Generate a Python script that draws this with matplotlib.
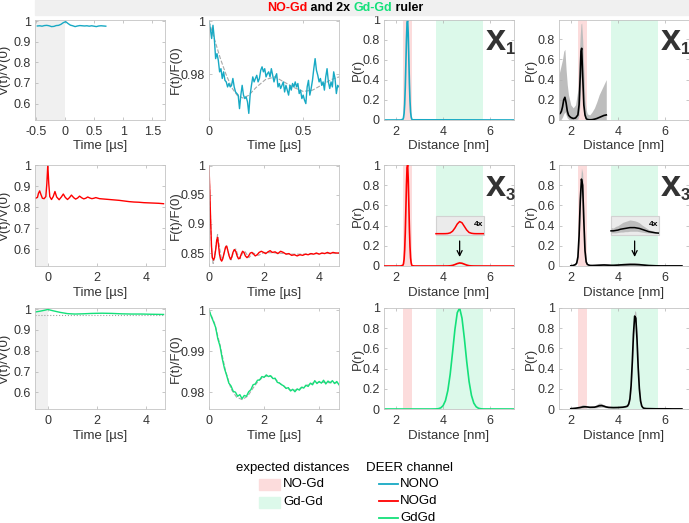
import numpy as np
import matplotlib.pyplot as plt
from matplotlib.patches import Rectangle
from matplotlib.lines import Line2D
from matplotlib.offsetbox import TextArea, HPacker, AnnotationBbox

plt.rcParams['font.family'] = ['Liberation Sans', 'DejaVu Sans']
plt.rcParams['axes.unicode_minus'] = False

# colours
c_nono = '#17a9c4'
c_nogd = '#ff0000'
c_gdgd = '#14e07a'
band_nogd = '#fcdcdc'
band_gdgd = '#dcf9ea'
txt = '#333333'

# ---------------- data ----------------
# NONO channel
v_nono = [0.976, 0.977, 0.975, 0.978, 0.979, 0.977, 0.973, 0.974, 0.978, 0.979,
          0.984, 0.992, 0.997, 0.988, 0.980, 0.977, 0.973, 0.976, 0.978, 0.977,
          0.976, 0.977, 0.975, 0.977, 0.975, 0.973, 0.976, 0.977, 0.976, 0.975]
f_nono = [1.0, 0.9972, 0.9935, 0.9985, 0.9935, 0.9859, 0.9878, 0.9853, 0.9809, 0.9821,
          0.9784, 0.9809, 0.9777, 0.9771, 0.9752, 0.9765, 0.9752, 0.9758, 0.9784, 0.9752,
          0.9733, 0.9727, 0.9721, 0.9670, 0.9721, 0.9758, 0.9721, 0.9708, 0.9714, 0.9696,
          0.9652, 0.9721, 0.9758, 0.9790, 0.9771, 0.9784, 0.9796, 0.9771, 0.9784, 0.9815,
          0.9828, 0.9809, 0.9821, 0.9790, 0.9802, 0.9809, 0.9790, 0.9821, 0.9796, 0.9771,
          0.9790, 0.9802, 0.9752, 0.9765, 0.9746, 0.9758, 0.9771, 0.9733, 0.9758, 0.9740,
          0.9721, 0.9758, 0.9740, 0.9765, 0.9752, 0.9771, 0.9752, 0.9765, 0.9727, 0.9740,
          0.9708, 0.9721, 0.9702, 0.9689, 0.9752, 0.9777, 0.9721, 0.9746, 0.9777, 0.9821,
          0.9859, 0.9815, 0.9796, 0.9771, 0.9784, 0.9758, 0.9771, 0.9740, 0.9790, 0.9821,
          0.9771, 0.9746, 0.9771, 0.9752, 0.9809, 0.9784, 0.9727, 0.9758, 0.9752]
tfit_nono = [0, 0.03, 0.06, 0.09, 0.12, 0.15, 0.18, 0.21, 0.25, 0.3, 0.35, 0.4, 0.45,
             0.5, 0.55, 0.6, 0.65, 0.69]
ffit_nono = [1.0, 0.993, 0.986, 0.980, 0.975, 0.972, 0.971, 0.972, 0.975, 0.978, 0.979,
             0.977, 0.975, 0.9735, 0.974, 0.976, 0.978, 0.979]

r_peak = [2.3, 2.325, 2.35, 2.375, 2.4, 2.425, 2.45, 2.475, 2.5, 2.525, 2.55, 2.575,
          2.6, 2.625, 2.65, 2.675, 2.7]
p_peak = [0.007, 0.023, 0.066, 0.16, 0.33, 0.56, 0.80, 0.97, 1.0, 0.86, 0.62, 0.37,
          0.19, 0.08, 0.03, 0.009, 0.002]
r_nono = [1.5, 2.2] + r_peak + [7.0]
p_nono = [0, 0] + p_peak + [0]

r_x1 = [1.5, 1.55, 1.6, 1.65, 1.7, 1.75, 1.8, 1.85, 1.9, 1.95, 2.0, 2.1, 2.2, 2.3, 2.35,
        2.4, 2.43, 2.46, 2.5, 2.55, 2.6, 2.65, 2.7, 2.8, 2.9, 3.0, 3.1, 3.2, 3.3, 3.4, 3.5]
p_x1 = [0.06, 0.065, 0.085, 0.13, 0.2, 0.225, 0.17, 0.09, 0.05, 0.035, 0.025, 0.015, 0.02,
        0.05, 0.15, 0.45, 0.68, 0.71, 0.45, 0.15, 0.05, 0.015, 0.005, 0.002, 0.003, 0.008,
        0.015, 0.025, 0.035, 0.045, 0.05]
hi_x1 = [0.45, 0.5, 0.55, 0.6, 0.68, 0.7, 0.5, 0.35, 0.25, 0.2, 0.15, 0.12, 0.15, 0.3, 0.6,
         0.85, 0.95, 0.96, 0.8, 0.5, 0.2, 0.1, 0.06, 0.05, 0.08, 0.12, 0.18, 0.25, 0.3, 0.35,
         0.4]
lo_x1 = [0.0, 0.0, 0.01, 0.03, 0.06, 0.08, 0.05, 0.02, 0.01, 0.0, 0.0, 0.0, 0.0, 0.01, 0.05,
         0.2, 0.4, 0.45, 0.25, 0.06, 0.01, 0, 0, 0, 0, 0, 0, 0, 0, 0, 0]

# NOGd channel
t_v_nogd = [-0.5, -0.42, -0.38, -0.33, -0.28, -0.22, -0.15, -0.08, -0.04, 0, 0.04, 0.08,
            0.15, 0.22, 0.29, 0.36, 0.46, 0.55, 0.63, 0.71, 0.8, 0.88, 0.96, 1.05, 1.13,
            1.21, 1.29, 1.38, 1.46, 1.54, 1.62, 1.71, 1.79, 1.87, 1.95, 2.1, 2.3, 2.5, 2.7,
            2.9, 3.1, 3.3, 3.5, 3.7, 3.9, 4.1, 4.3, 4.5, 4.7]
v_nogd = [0.842, 0.846, 0.865, 0.877, 0.86, 0.842, 0.840, 0.85, 0.91, 1.0, 0.91, 0.85,
          0.836, 0.85, 0.874, 0.848, 0.835, 0.848, 0.862, 0.846, 0.836, 0.845, 0.857, 0.845,
          0.838, 0.843, 0.852, 0.844, 0.839, 0.842, 0.848, 0.843, 0.840, 0.842, 0.845, 0.840,
          0.838, 0.836, 0.834, 0.832, 0.829, 0.826, 0.824, 0.823, 0.821, 0.820, 0.819, 0.818,
          0.816]
t_f_nogd = [0, 0.03, 0.06, 0.09, 0.12, 0.16, 0.2, 0.25, 0.28, 0.31, 0.34, 0.38, 0.42, 0.46,
            0.5, 0.55, 0.6, 0.64, 0.68, 0.73, 0.78, 0.82, 0.87, 0.92, 0.97, 1.02, 1.07, 1.12,
            1.17, 1.22, 1.27, 1.32, 1.38, 1.44, 1.5, 1.56, 1.62, 1.68, 1.75, 1.82, 1.9, 1.98,
            2.06, 2.14, 2.22, 2.3, 2.4, 2.5, 2.6, 2.7, 2.8, 2.9, 3.0, 3.1, 3.2, 3.3, 3.4, 3.5,
            3.6, 3.7, 3.8, 3.9, 4.0, 4.1, 4.2, 4.3, 4.4, 4.5, 4.6, 4.72]
f_nogd = [1.0, 0.955, 0.905, 0.862, 0.842, 0.838, 0.842, 0.858, 0.872, 0.877, 0.866, 0.848,
          0.839, 0.836, 0.840, 0.850, 0.860, 0.862, 0.855, 0.845, 0.839, 0.842, 0.851, 0.856,
          0.853, 0.845, 0.840, 0.841, 0.848, 0.853, 0.851, 0.845, 0.842, 0.845, 0.850, 0.851,
          0.848, 0.845, 0.847, 0.851, 0.853, 0.851, 0.849, 0.852, 0.854, 0.851, 0.852, 0.849,
          0.853, 0.851, 0.848, 0.849, 0.846, 0.847, 0.845, 0.847, 0.846, 0.848, 0.847, 0.849,
          0.848, 0.850, 0.848, 0.850, 0.849, 0.851, 0.849, 0.851, 0.850, 0.850]
tfit_nogd = [0, 0.05, 0.1, 0.15, 0.2, 0.25, 0.31, 0.38, 0.46, 0.55, 0.63, 0.72, 0.8, 0.9,
             0.97, 1.05, 1.13, 1.22, 1.3, 1.45, 1.6, 1.8, 2.0, 2.5, 3.0, 3.5, 4.0, 4.72]
ffit_nogd = [1.0, 0.92, 0.85, 0.832, 0.842, 0.862, 0.882, 0.86, 0.837, 0.85, 0.864, 0.848,
             0.838, 0.853, 0.857, 0.846, 0.84, 0.85, 0.853, 0.842, 0.85, 0.846, 0.851, 0.85,
             0.848, 0.848, 0.849, 0.85]

r_bump = [3.7, 3.8, 3.9, 4.0, 4.1, 4.2, 4.3, 4.4, 4.5, 4.6, 4.7, 4.8, 4.9, 5.0, 5.1, 5.2,
          5.3, 5.4, 5.5, 5.6, 5.7]
p_bump = [0, 0, 0, 0, 0.0001, 0.0005, 0.002, 0.006, 0.014, 0.024, 0.030, 0.027, 0.018,
          0.009, 0.003, 0.001, 0.0002, 0, 0, 0, 0]
r_nogd = [1.5, 2.2] + r_peak + [2.8] + r_bump + [7.0]
p_nogd = [0, 0] + p_peak + [0] + p_bump + [0]

r_x3 = [2.0, 2.1, 2.2, 2.25, 2.3, 2.35, 2.4, 2.45, 2.5, 2.55, 2.6, 2.65, 2.7, 2.8, 2.9, 3.0,
        3.2, 3.4, 3.7, 3.8, 3.9, 4.0, 4.1, 4.2, 4.3, 4.4, 4.5, 4.6, 4.7, 4.8, 4.9, 5.0, 5.1,
        5.2, 5.3, 5.4, 5.5, 5.6, 5.7, 5.8, 6.0, 6.2, 6.4, 6.7]
p_x3 = [0.002, 0.005, 0.015, 0.03, 0.09, 0.3, 0.65, 0.86, 0.8, 0.45, 0.15, 0.04, 0.015,
        0.006, 0.005, 0.006, 0.008, 0.01, 0.007, 0.007, 0.008, 0.009, 0.011, 0.012, 0.013,
        0.014, 0.015, 0.015, 0.015, 0.014, 0.013, 0.011, 0.009, 0.007, 0.005, 0.004, 0.003,
        0.002, 0.0015, 0.001, 0.001, 0.001, 0.001, 0.001]
hi_x3 = [0.003, 0.007, 0.02, 0.04, 0.12, 0.38, 0.78, 0.97, 0.92, 0.55, 0.2, 0.06, 0.025,
         0.012, 0.012, 0.014, 0.02, 0.025, 0.015, 0.014, 0.018, 0.02, 0.024, 0.028, 0.03,
         0.032, 0.034, 0.033, 0.032, 0.03, 0.027, 0.022, 0.018, 0.014, 0.01, 0.008, 0.006,
         0.004, 0.003, 0.002, 0.002, 0.002, 0.002, 0.002]
lo_x3 = [0.001, 0.003, 0.01, 0.022, 0.07, 0.24, 0.55, 0.76, 0.68, 0.37, 0.11, 0.03, 0.01,
         0.003, 0.002, 0.002, 0.002, 0.003, 0.002, 0.002, 0.002, 0.003, 0.004, 0.004, 0.005,
         0.005, 0.006, 0.006, 0.006, 0.006, 0.005, 0.004, 0.003, 0.002, 0.002, 0.001, 0.001,
         0.001, 0.0005, 0.0005, 0.0005, 0.0005, 0.0005, 0.0005]

# GdGd channel
t_v_gdgd = [-0.5, -0.3, -0.1, 0, 0.2, 0.5, 0.8, 1.1, 1.4, 1.8, 2.2, 2.6, 3.0, 3.4, 3.8,
            4.2, 4.7]
v_gdgd = [0.986, 0.99, 0.995, 0.998, 0.992, 0.984, 0.978, 0.976, 0.977, 0.979, 0.98, 0.979,
          0.977, 0.976, 0.976, 0.975, 0.974]
v_gdgd_bg = 0.972
f_gdgd = [1.0, 0.9985, 0.9972, 0.9958, 0.9930, 0.9912, 0.9882, 0.9858, 0.9841, 0.9822,
          0.9815, 0.9802, 0.9800, 0.9790, 0.9794, 0.9784, 0.9792, 0.9790, 0.9801, 0.9806,
          0.9818, 0.9820, 0.9829, 0.9830, 0.9838, 0.9836, 0.9842, 0.9838, 0.9840, 0.9833,
          0.9834, 0.9824, 0.9822, 0.9818, 0.9815, 0.9809, 0.9811, 0.9803, 0.9807, 0.9801,
          0.9808, 0.9805, 0.9812, 0.9810, 0.9817, 0.9814, 0.9822, 0.9818, 0.9828, 0.9821,
          0.9826, 0.9822, 0.9829, 0.9820, 0.9827, 0.9823, 0.9828, 0.9821, 0.9826, 0.9818]
tfit_gdgd = [0, 0.2, 0.4, 0.6, 0.8, 1.0, 1.2, 1.4, 1.6, 1.8, 2.0, 2.2, 2.4, 2.6, 2.8, 3.0,
             3.2, 3.4, 3.6, 3.8, 4.0, 4.2, 4.4, 4.72]
ffit_gdgd = [1.0, 0.9968, 0.9915, 0.9852, 0.9808, 0.9788, 0.9782, 0.9790, 0.9810, 0.9828,
             0.9838, 0.9840, 0.9832, 0.9820, 0.9810, 0.9804, 0.9806, 0.9812, 0.9818, 0.9823,
             0.9824, 0.9824, 0.9823, 0.9823]

r_gdgd = [1.5, 3.5] + r_bump + [7.0]
p_gdgd = [0, 0, 0.0008, 0.003, 0.011, 0.033, 0.083, 0.182, 0.344, 0.56, 0.787, 0.954, 1.0,
          0.899, 0.699, 0.469, 0.271, 0.135, 0.058, 0.022, 0.007, 0.002, 0.0005, 0]

r_xg = [2.0, 2.2, 2.4, 2.5, 2.6, 2.7, 2.8, 3.0, 3.1, 3.2, 3.3, 3.4, 3.5, 3.6, 3.8, 4.0, 4.2,
        4.3, 4.35, 4.4, 4.45, 4.5, 4.55, 4.6, 4.65, 4.7, 4.75, 4.8, 4.85, 4.9, 4.95, 5.0, 5.05,
        5.1, 5.2, 5.4, 5.6, 5.8, 6.0, 6.3, 6.7]
p_xg = [0.003, 0.008, 0.015, 0.02, 0.022, 0.02, 0.017, 0.018, 0.024, 0.032, 0.034, 0.028,
        0.02, 0.016, 0.014, 0.015, 0.018, 0.022, 0.025, 0.03, 0.05, 0.1, 0.23, 0.46, 0.74,
        0.92, 0.9, 0.69, 0.41, 0.2, 0.08, 0.03, 0.013, 0.007, 0.004, 0.003, 0.002, 0.002,
        0.002, 0.001, 0.001]
hi_xg = [0.004, 0.012, 0.03, 0.045, 0.04, 0.03, 0.025, 0.03, 0.045, 0.06, 0.055, 0.04, 0.03,
         0.025, 0.022, 0.022, 0.026, 0.03, 0.034, 0.04, 0.065, 0.13, 0.28, 0.53, 0.82, 0.975,
         0.96, 0.75, 0.46, 0.24, 0.1, 0.04, 0.018, 0.01, 0.006, 0.004, 0.003, 0.003, 0.003,
         0.002, 0.002]
lo_xg = [0.002, 0.005, 0.008, 0.01, 0.012, 0.012, 0.01, 0.01, 0.012, 0.015, 0.018, 0.016,
         0.012, 0.01, 0.009, 0.01, 0.012, 0.015, 0.018, 0.022, 0.04, 0.08, 0.19, 0.4, 0.66,
         0.86, 0.84, 0.63, 0.36, 0.17, 0.065, 0.022, 0.009, 0.005, 0.003, 0.002, 0.001, 0.001,
         0.001, 0.0005, 0.0005]

# expected distance windows [nm]
win_nogd = (2.32, 2.68)
win_gdgd = (3.7, 5.7)
inset_off, inset_mag = 0.32, 4

# ---------------- figure ----------------
W, H = 689, 523
fig = plt.figure(figsize=(W / 100, H / 100), dpi=100)

col_x = [35, 209, 384, 559]
rows = [(20, 100), (165, 101), (308, 101)]


def make_ax(col, row):
    top, h = rows[row]
    return fig.add_axes([col_x[col] / W, 1 - (top + h) / H, 130 / W, h / H])


def style(ax, xlim, xt, xtl, ylim, yt, ytl, xlab, ylab, ylx):
    ax.set_xlim(xlim)
    ax.set_ylim(ylim)
    ax.set_xticks(xt)
    ax.set_xticklabels(xtl)
    ax.set_yticks(yt)
    ax.set_yticklabels(ytl)
    ax.tick_params(direction='in', top=True, right=True, length=2.5, width=0.5,
                   color='#b0b0b0', labelcolor=txt, labelsize=9, pad=3)
    ax.tick_params(axis='x', pad=4.5)
    for s in ax.spines.values():
        s.set_color('#c4c4c4')
        s.set_linewidth(0.6)
    ax.set_xlabel(xlab, fontsize=9.5, color=txt)
    ax.set_ylabel(ylab, fontsize=9.5, color=txt)
    ax.xaxis.set_label_coords(0.5, -0.205)
    ax.yaxis.set_label_coords(ylx, 0.5)


def windows(ax):
    ax.axvspan(*win_nogd, color=band_nogd, lw=0, zorder=0)
    ax.axvspan(*win_gdgd, color=band_gdgd, lw=0, zorder=0)


def tag(ax, sub):
    ax.text(0.78, 0.695, 'x', transform=ax.transAxes, fontsize=26, fontweight='bold',
            color=txt, va='baseline')
    ax.text(0.935, 0.655, sub, transform=ax.transAxes, fontsize=12, fontweight='bold',
            color=txt, va='baseline')


def inset_box(ax):
    ax.add_patch(Rectangle((3.69, 0.305), 2.05, 0.193, facecolor='#ebebeb',
                           edgecolor='#d2d2d2', lw=0.8, zorder=2))
    ax.text(5.5, 0.41, '4x', fontsize=6, fontweight='bold', ha='center', va='center',
            zorder=4)
    ax.annotate('', xy=(4.7, 0.062), xytext=(4.7, 0.275),
                arrowprops=dict(arrowstyle='->', color='black', lw=0.9,
                                mutation_scale=9), zorder=4)


time_us = 'Time [\u00b5s]'
dist = 'Distance [nm]'
v_ticks = [0.6, 0.7, 0.8, 0.9, 1]
v_tl = ['0.6', '0.7', '0.8', '0.9', '1']
p_ticks = [0, 0.2, 0.4, 0.6, 0.8, 1]
p_tl = ['0', '0.2', '0.4', '0.6', '0.8', '1']

# ---- row 1: NONO ----
ax = make_ax(0, 0)
ax.axvspan(-0.52, 0, color='#f0f0f0', lw=0)
ax.plot(np.linspace(-0.48, 0.70, len(v_nono)), v_nono, color=c_nono, lw=1)
style(ax, (-0.52, 1.72), [-0.5, 0, 0.5, 1, 1.5], ['-0.5', '0', '0.5', '1', '1.5'],
      (0.52, 1.005), v_ticks, v_tl, time_us, 'V(t)/V(0)', -0.185)

ax = make_ax(1, 0)
ax.plot(tfit_nono, ffit_nono, color='#a8a8a8', ls='--', lw=0.8)
ax.plot(np.linspace(0, 0.69, len(f_nono)), f_nono, color=c_nono, lw=1)
style(ax, (0, 0.69), [0, 0.5], ['0', '0.5'], (0.9627, 1.0005), [0.98, 1], ['0.98', '1'],
      time_us, 'F(t)/F(0)', -0.208)

ax = make_ax(2, 0)
windows(ax)
ax.plot(r_nono, p_nono, color=c_nono, lw=1.2)
style(ax, (1.5, 7), [2, 4, 6], ['2', '4', '6'], (0, 1.0), p_ticks, p_tl, dist, 'P(r)',
      -0.155)
tag(ax, '1')

ax = make_ax(3, 0)
windows(ax)
ax.fill_between(r_x1, lo_x1, hi_x1, color='#bdbdbd', lw=0)
ax.plot(r_x1, p_x1, color='black', lw=1.2)
style(ax, (1.5, 7), [2, 4, 6], ['2', '4', '6'], (0, 0.99), p_ticks[:-1], p_tl[:-1], dist,
      'P(r)', -0.172)
tag(ax, '1')

# ---- row 2: NOGd ----
ax = make_ax(0, 1)
ax.axvspan(-0.52, 0, color='#f0f0f0', lw=0)
ax.plot(t_v_nogd, v_nogd, color=c_nogd, lw=1)
style(ax, (-0.52, 4.76), [0, 2, 4], ['0', '2', '4'], (0.52, 1.0), v_ticks, v_tl, time_us,
      'V(t)/V(0)', -0.185)

ax = make_ax(1, 1)
ax.plot(tfit_nogd, ffit_nogd, color='#a8a8a8', ls='--', lw=0.8)
ax.plot(t_f_nogd, f_nogd, color=c_nogd, lw=1)
style(ax, (0, 4.72), [0, 2, 4], ['0', '2', '4'], (0.8276, 1.0017), [0.85, 0.9, 0.95, 1],
      ['0.85', '0.9', '0.95', '1'], time_us, 'F(t)/F(0)', -0.208)

ax = make_ax(2, 1)
windows(ax)
ax.plot(r_nogd, p_nogd, color=c_nogd, lw=1.2, zorder=3)
inset_box(ax)
rb = np.array(r_bump)
ax.plot(rb, inset_off + inset_mag * np.array(p_bump), color=c_nogd, lw=1.1, zorder=3)
style(ax, (1.5, 7), [2, 4, 6], ['2', '4', '6'], (0, 1.0), p_ticks, p_tl, dist, 'P(r)',
      -0.155)
tag(ax, '3')

ax = make_ax(3, 1)
windows(ax)
ax.fill_between(r_x3, lo_x3, hi_x3, color='#bdbdbd', lw=0, zorder=1)
ax.plot(r_x3, p_x3, color='black', lw=1.2, zorder=3)
inset_box(ax)
rx = np.array(r_x3)
m = (rx >= 3.7) & (rx <= 5.72)
ax.fill_between(rx[m], inset_off + inset_mag * np.array(lo_x3)[m],
                inset_off + inset_mag * np.array(hi_x3)[m], color='#bdbdbd', lw=0, zorder=3)
ax.plot(rx[m], inset_off + inset_mag * np.array(p_x3)[m], color='black', lw=1.1, zorder=3)
style(ax, (1.5, 7), [2, 4, 6], ['2', '4', '6'], (0, 1.0), p_ticks, p_tl, dist, 'P(r)',
      -0.172)
tag(ax, '3')

# ---- row 3: GdGd ----
ax = make_ax(0, 2)
ax.axvspan(-0.52, 0, color='#f0f0f0', lw=0)
ax.axhline(v_gdgd_bg, color='#a0a0a0', ls=':', lw=0.8)
ax.plot(t_v_gdgd, v_gdgd, color=c_gdgd, lw=1)
style(ax, (-0.52, 4.76), [0, 2, 4], ['0', '2', '4'], (0.52, 1.005), v_ticks, v_tl, time_us,
      'V(t)/V(0)', -0.185)

ax = make_ax(1, 2)
ax.plot(tfit_gdgd, ffit_gdgd, color='#a8a8a8', ls='--', lw=0.8)
ax.plot(np.linspace(0, 4.72, len(f_gdgd)), f_gdgd, color=c_gdgd, lw=1)
style(ax, (0, 4.72), [0, 2, 4], ['0', '2', '4'], (0.9759, 1.0005), [0.98, 0.99, 1],
      ['0.98', '0.99', '1'], time_us, 'F(t)/F(0)', -0.208)

ax = make_ax(2, 2)
windows(ax)
ax.plot(r_gdgd, p_gdgd, color=c_gdgd, lw=1.2)
style(ax, (1.5, 7), [2, 4, 6], ['2', '4', '6'], (0, 1.0), p_ticks, p_tl, dist, 'P(r)',
      -0.155)

ax = make_ax(3, 2)
windows(ax)
ax.fill_between(r_xg, lo_xg, hi_xg, color='#bdbdbd', lw=0)
ax.plot(r_xg, p_xg, color='black', lw=1.2)
style(ax, (1.5, 7), [2, 4, 6], ['2', '4', '6'], (0, 1.0), p_ticks, p_tl, dist, 'P(r)',
      -0.172)

# ---- title bar ----
fig.patches.append(Rectangle((35 / W, 1 - 15 / H), 654 / W, 15 / H, color='#f0f0f0',
                             transform=fig.transFigure, zorder=0))
parts = [('NO-Gd', c_nogd), (' and 2x ', 'black'), ('Gd-Gd', c_gdgd), (' ruler', 'black')]
boxes = [TextArea(s, textprops=dict(color=c, fontsize=9, fontweight='bold')) for s, c in parts]
title = AnnotationBbox(HPacker(children=boxes, pad=0, sep=0), (345 / W, 1 - 8 / H),
                       xycoords='figure fraction', frameon=False, box_alignment=(0.5, 0.5))
fig.add_artist(title)

# ---- legend ----
fs = 9.5
fig.text(293 / W, 1 - 468 / H, 'expected distances', ha='center', va='center', fontsize=fs,
         color='black')
for y, col, lab in [(484, band_nogd, 'NO-Gd'), (502, band_gdgd, 'Gd-Gd')]:
    fig.patches.append(Rectangle((259 / W, 1 - (y + 5.5) / H), 21 / W, 11 / H, color=col,
                                 transform=fig.transFigure))
    fig.text(283 / W, 1 - y / H, lab, ha='left', va='center', fontsize=fs)
fig.text(366 / W, 1 - 468 / H, 'DEER channel', ha='left', va='center', fontsize=fs)
for y, col, lab in [(484, c_nono, 'NONO'), (501, c_nogd, 'NOGd'), (518, c_gdgd, 'GdGd')]:
    fig.lines.append(Line2D([379 / W, 398 / W], [1 - y / H, 1 - y / H], color=col, lw=1.3,
                            transform=fig.transFigure))
    fig.text(400 / W, 1 - y / H, lab, ha='left', va='center', fontsize=fs)

fig.savefig('out.png', dpi=100)
